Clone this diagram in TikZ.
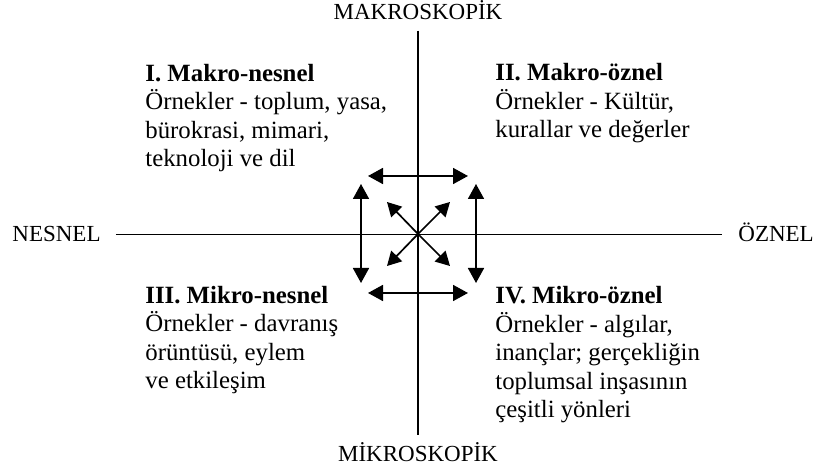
\documentclass[tikz,border=0pt]{standalone}
\usepackage{fontspec}
\setmainfont{Liberation Serif}
\usetikzlibrary{arrows.meta}
\begin{document}
\begin{tikzpicture}[x=0.5pt, y=-0.5pt,
    axislbl/.style={inner sep=0pt, font=\fontsize{11.5}{14}\selectfont},
    quad/.style={inner sep=0pt, anchor=base west, align=left, font=\fontsize{12.4}{14.3}\selectfont},
    axis/.style={line width=0.65pt},
    link/.style={line width=0.85pt, {Triangle[length=7.5pt,width=8pt]}-{Triangle[length=7.5pt,width=8pt]}},
    ray/.style={line width=0.85pt, -{Triangle[length=7pt,width=7.5pt]}}
]
    \useasboundingbox (0,0) rectangle (816,470);
    % axis labels
    \node[axislbl, anchor=base] (mak) at (418,20) {MAKROSKOPİK};
    \node[axislbl, anchor=base] (mik) at (418,462) {MİKROSKOPİK};
    \node[axislbl, anchor=base west] (nes) at (12,242) {NESNEL};
    \node[axislbl, anchor=base west] (ozn) at (738,242) {ÖZNEL};
    \draw[axis, shorten <=5pt, shorten >=3.8pt] (mak.south) -- (mak.south |- mik.north);
    \draw[axis, shorten <=7.5pt, shorten >=8pt] (nes.east) -- (nes.east -| ozn.west);
    % quadrants (base = last line)
    \node[quad] (q1) at (145,167) {\textbf{I. Makro-nesnel}\\Örnekler - toplum, yasa,\\bürokrasi, mimari,\\teknoloji ve dil};
    \node[quad] (q2) at (495,138) {\textbf{II. Makro-öznel}\\Örnekler - Kültür,\\kurallar ve değerler};
    \node[quad] (q3) at (145,389) {\textbf{III. Mikro-nesnel}\\Örnekler - davranış\\örüntüsü, eylem\\ve etkileşim};
    \node[quad] (q4) at (495,418) {\textbf{IV. Mikro-öznel}\\Örnekler - algılar,\\inançlar; gerçekliğin\\toplumsal inşasının\\çeşitli yönleri};
    % arrows in the middle
    \coordinate (c) at (418,234);
    \coordinate (ta) at (368,176); \coordinate (tb) at (468,176);
    \coordinate (ba) at (368,293); \coordinate (bb) at (468,293);
    \coordinate (la) at (361,184); \coordinate (lb) at (361,283);
    \coordinate (ra) at (476,184); \coordinate (rb) at (476,283);
    \draw[link] (ta) -- (tb);
    \draw[link] (ba) -- (bb);
    \draw[link] (la) -- (lb);
    \draw[link] (ra) -- (rb);
    \foreach \n/\dx/\dy in {nw/-31/-32, ne/32/-32, sw/-31/32, se/32/32} {
        \path (c) ++(\dx,\dy) coordinate (d\n);
        \draw[ray] (c) -- (d\n);
    }
\end{tikzpicture}
\end{document}
